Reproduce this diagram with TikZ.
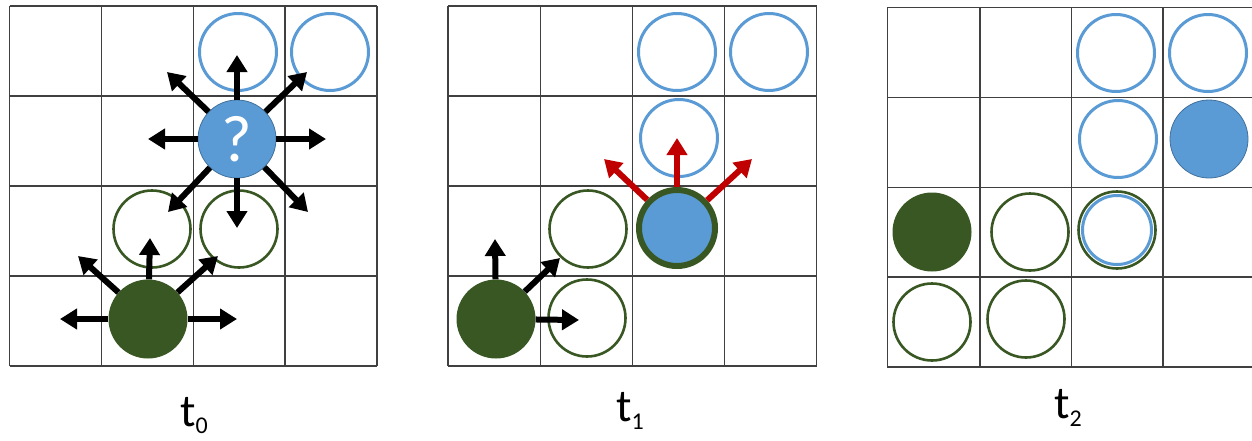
\documentclass[tikz,border=0pt]{standalone}
\usepackage{fontspec}
\setmainfont{Carlito}
\usetikzlibrary{arrows.meta}
\definecolor{bl}{RGB}{91,155,213}
\definecolor{bld}{RGB}{65,113,156}
\definecolor{gr}{RGB}{56,87,35}
\definecolor{rd}{RGB}{192,0,0}
\begin{document}
\begin{tikzpicture}[x=1pt,y=-1pt,
  gridl/.style={black!75,line width=1.1pt},
  bopen/.style={circle,draw=bl,line width=3pt,minimum size=77pt,inner sep=0pt},
  gopen/.style={circle,draw=gr,line width=2.6pt,minimum size=77pt,inner sep=0pt},
  gfill/.style={circle,fill=gr,minimum size=79pt,inner sep=0pt},
  bfill/.style={circle,fill=bl,draw=bld,line width=0.8pt,minimum size=78pt,inner sep=0pt},
  bgfill/.style={circle,fill=bl,draw=gr,line width=6pt,minimum size=76pt,inner sep=0pt},
  arr/.style={line width=6pt,-{Triangle[length=17pt,width=20pt]}},
  rarr/.style={arr,draw=rd},
  lbl/.style={font=\fontsize{46}{46}\selectfont,anchor=base,inner sep=0pt}]
\useasboundingbox (0,0) rectangle (1252,440);
\clip (0,0) rectangle (1252,440);
\fill[white] (0,0) rectangle (1252,440);

% grids
\foreach \x in {9.5,101.5,193.5,285,377} \draw[gridl] (\x,6) -- (\x,366);
\foreach \y in {6,96,186,276,366} \draw[gridl] (9.5,\y) -- (377,\y);
\foreach \x in {448,540.7,632.7,724.3,816.7} \draw[gridl] (\x,6) -- (\x,366);
\foreach \y in {6,96,186,276,366} \draw[gridl] (448,\y) -- (816.7,\y);
\foreach \x in {887.3,980,1071.7,1163} \draw[gridl] (\x,7.3) -- (\x,367);
\foreach \y in {7.3,97.7,187.3,277,367} \draw[gridl] (887.3,\y) -- (1260,\y);

% ---- t0 ----
\node[bopen] (a1) at (238,52) {};
\node[bopen] (a2) at (330,52) {};
\node[gopen] (a3) at (152,229) {};
\node[gopen] (a4) at (239,229) {};
\coordinate (qN) at (237,55);
\coordinate (qS) at (237,228);
\coordinate (qW) at (148,139);
\coordinate (qE) at (326,139);
\coordinate (qNW) at (167,72);
\coordinate (qNE) at (307,72);
\coordinate (qSW) at (168,212);
\coordinate (qSE) at (308,212);
\coordinate (gW) at (60,319);
\coordinate (gE) at (237,319);
\coordinate (gN) at (150,238);
\coordinate (gNW) at (78,256);
\coordinate (gNE) at (218,256);
\node[bfill,text=white,font=\fontsize{66}{66}\selectfont] (Q) at (237,139) {?};
\node[gfill] (G1) at (148,319) {};
\foreach \t in {qN,qS,qW,qE,qNW,qNE,qSW,qSE} \draw[arr] (Q) -- (\t);
\foreach \t in {gW,gE,gN,gNW,gNE} \draw[arr] (G1) -- (\t);
\node[lbl] (L0) at (194,426) {t\raisebox{-7pt}{\fontsize{24}{24}\selectfont 0}};

% ---- t1 ----
\node[gopen] (b1) at (588,229) {};
\node[gopen] (b2) at (587,318) {};
\node[bopen] (b3) at (677,52) {};
\node[bopen] (b4) at (769,52) {};
\node[bopen] (b5) at (679,138) {};
\node[gfill] (G2) at (496,319) {};
\node[bgfill] (B2) at (677,228) {};
\coordinate (hN) at (495,239);
\coordinate (hNE) at (560,258);
\coordinate (hE) at (579,320);
\coordinate (rN) at (677,138);
\coordinate (rNW) at (604,159);
\coordinate (rNE) at (752,159);
\foreach \t in {hN,hNE,hE} \draw[arr] (G2) -- (\t);
\foreach \t in {rN,rNW,rNE} \draw[rarr] (B2) -- (\t);
\node[lbl] (L1) at (630,421) {t\raisebox{-8pt}{\fontsize{24}{24}\selectfont 1}};

% ---- t2 ----
\node[bopen] (c1) at (1116,53) {};
\node[bopen] (c2) at (1208,53) {};
\node[bopen] (c3) at (1118,139) {};
\node[bfill] (c4) at (1209,139) {};
\node[gfill] (c5) at (932,232) {};
\node[gopen] (c6) at (1030,232) {};
\node[gopen] (c7) at (1117,230) {};
\node[bopen,minimum size=69pt] (c8) at (1117,230) {};
\node[gopen] (c9) at (932,322) {};
\node[gopen] (c10) at (1026,319) {};
\node[lbl] (L2) at (1068,418) {t\raisebox{-8pt}{\fontsize{24}{24}\selectfont 2}};
\end{tikzpicture}
\end{document}
